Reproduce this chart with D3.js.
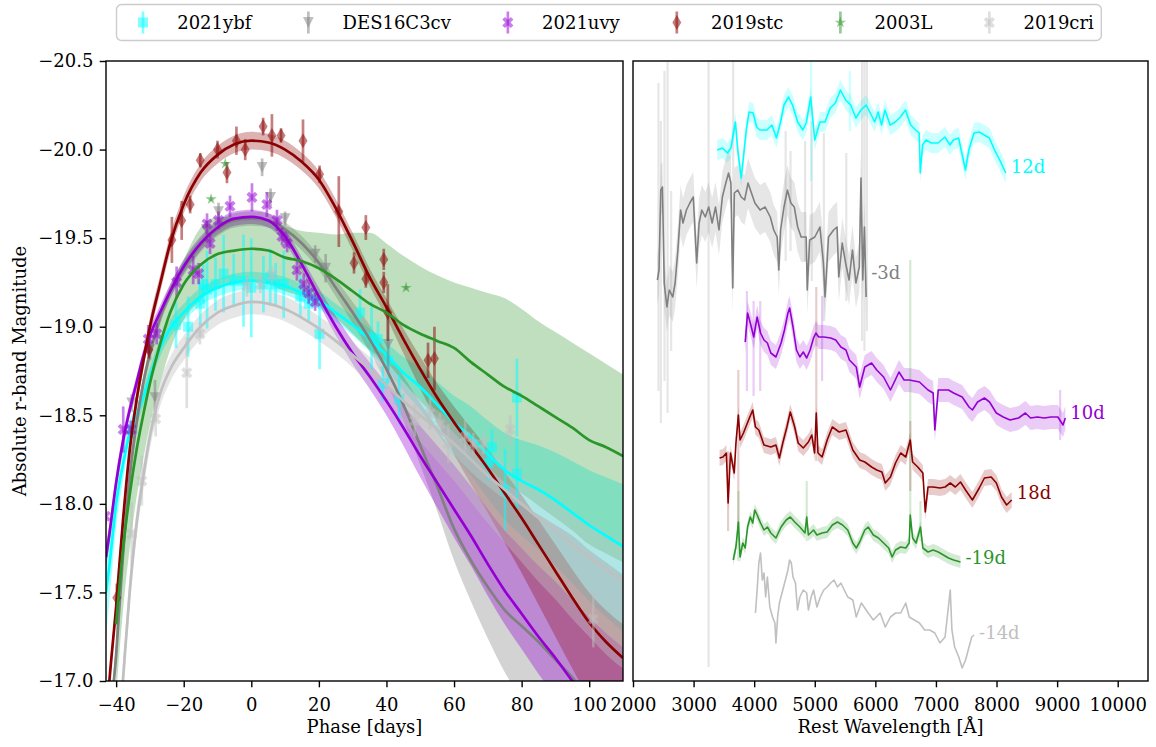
<!DOCTYPE html>
<html>
<head>
<meta charset="utf-8">
<script src="https://cdn.jsdelivr.net/npm/d3@7"></script>
<style>
body { margin: 0; background: #fff; }
svg text { font-family: "DejaVu Serif", "Liberation Serif", serif; }
</style>
</head>
<body>
<svg id="fig" width="1156" height="747"></svg>
<script>
"use strict";

// Light curve model grid (phase, days) shared by every model.
var lcPhase = [-43,-42,-40,-38,-36,-34,-32,-30,-27,-24,-20,-15,-10,-5,0,5,10,15,20,25,30,35,40,45,50,55,60,65,70,75,80,85,90,95,100,105,110];

// Model magnitudes and band widths (bright side, faint side).
var ybfMag = [-17.5,-17.65,-18.0,-18.22,-18.4,-18.5,-18.6,-18.72,-18.88,-18.99,-19.08,-19.17,-19.22,-19.25,-19.26,-19.25,-19.23,-19.19,-19.15,-19.08,-19.01,-18.93,-18.84,-18.74,-18.66,-18.56,-18.46,-18.38,-18.28,-18.19,-18.13,-18.08,-18.02,-17.95,-17.88,-17.82,-17.76];
var ybfHi  = [.25,.2,.13,.09,.07,.06,.05,.05,.05,.05,.05,.05,.05,.05,.05,.05,.05,.05,.05,.05,.05,.06,.07,.09,.11,.13,.15,.17,.19,.21,.23,.25,.27,.29,.31,.33,.35];
var ybfLo  = [.25,.2,.13,.09,.07,.06,.05,.05,.05,.05,.05,.05,.05,.05,.05,.05,.05,.05,.05,.05,.06,.07,.08,.1,.13,.16,.19,.22,.25,.28,.31,.34,.37,.4,.43,.46,.48];

var desMag = [-16.4,-16.7,-17.15,-17.7,-18.15,-18.45,-18.68,-18.85,-19.05,-19.2,-19.33,-19.46,-19.55,-19.6,-19.61,-19.6,-19.55,-19.47,-19.36,-19.22,-19.08,-18.93,-18.76,-18.56,-18.33,-18.1,-17.86,-17.68,-17.53,-17.4,-17.31,-17.22,-17.12,-17.02,-16.9,-16.8,-16.7];
var desHi  = [.08,.08,.07,.06,.05,.05,.04,.04,.04,.04,.04,.04,.04,.04,.04,.04,.04,.04,.04,.05,.06,.08,.1,.16,.24,.33,.42,.5,.57,.63,.68,.72,.76,.8,.84,.87,.9];
var desLo  = [.08,.08,.07,.06,.05,.05,.04,.04,.04,.04,.04,.04,.04,.04,.04,.04,.04,.04,.04,.05,.06,.07,.08,.09,.11,.14,.18,.23,.29,.35,.41,.47,.53,.59,.65,.7,.75];

var uvyMag = [-17.7,-17.83,-18.12,-18.35,-18.53,-18.68,-18.83,-18.95,-19.08,-19.2,-19.34,-19.47,-19.56,-19.61,-19.62,-19.6,-19.51,-19.35,-19.17,-19.0,-18.85,-18.72,-18.58,-18.43,-18.27,-18.12,-17.97,-17.82,-17.66,-17.51,-17.38,-17.25,-17.13,-17.0,-16.88,-16.77,-16.66];
var uvyHi  = [.06,.06,.05,.05,.04,.04,.04,.04,.04,.04,.04,.04,.04,.04,.04,.04,.04,.04,.05,.06,.07,.08,.1,.13,.17,.21,.25,.28,.31,.34,.37,.4,.43,.46,.48,.5,.53];
var uvyLo  = [.06,.06,.05,.05,.04,.04,.04,.04,.04,.04,.04,.04,.04,.04,.04,.04,.04,.04,.04,.05,.06,.07,.08,.1,.12,.14,.16,.17,.18,.19,.2,.21,.22,.23,.24,.25,.26];

var stcMag = [-16.75,-17.0,-17.42,-17.9,-18.3,-18.58,-18.8,-19.0,-19.24,-19.47,-19.69,-19.87,-19.97,-20.03,-20.05,-20.04,-20.0,-19.93,-19.83,-19.67,-19.48,-19.28,-19.11,-18.93,-18.76,-18.6,-18.46,-18.33,-18.2,-18.06,-17.92,-17.77,-17.62,-17.47,-17.33,-17.22,-17.13];
var stcHi  = [.05,.05,.05,.05,.05,.05,.05,.05,.05,.05,.05,.05,.05,.05,.05,.05,.05,.05,.05,.05,.05,.05,.05,.06,.07,.08,.09,.1,.11,.12,.13,.14,.15,.16,.17,.18,.19];
var stcLo  = [.05,.05,.05,.05,.05,.05,.05,.05,.05,.05,.05,.05,.05,.05,.05,.05,.05,.05,.05,.05,.05,.05,.06,.08,.11,.14,.18,.22,.25,.28,.31,.34,.37,.4,.43,.46,.49];

var lMag = [null,null,-17.32,-17.74,-18.05,-18.3,-18.5,-18.68,-18.9,-19.08,-19.24,-19.35,-19.41,-19.43,-19.44,-19.43,-19.39,-19.37,-19.33,-19.27,-19.2,-19.13,-19.08,-19.01,-18.96,-18.92,-18.88,-18.8,-18.73,-18.66,-18.61,-18.55,-18.49,-18.43,-18.36,-18.32,-18.27];
var lHi  = [null,null,.2,.2,.2,.2,.19,.17,.15,.14,.14,.21,.21,.19,.18,.17,.18,.17,.2,.25,.33,.4,.39,.39,.38,.37,.37,.42,.46,.5,.49,.48,.48,.48,.49,.47,.46];
var lLo  = [null,null,.4,.35,.3,.27,.25,.23,.22,.21,.2,.2,.19,.19,.19,.19,.19,.2,.21,.22,.24,.26,.28,.32,.38,.43,.48,.5,.52,.54,.55,.56,.57,.58,.59,.6,.6];

var criMag = [null,null,-16.5,-17.0,-17.5,-17.88,-18.15,-18.38,-18.62,-18.76,-18.88,-19.0,-19.08,-19.12,-19.14,-19.13,-19.1,-19.05,-18.99,-18.92,-18.84,-18.76,-18.67,-18.58,-18.5,-18.42,-18.34,-18.25,-18.16,-18.08,-18.0,-17.92,-17.85,-17.77,-17.7,-17.63,-17.57];
var criHi  = [null,null,.1,.1,.09,.08,.07,.07,.07,.07,.07,.07,.07,.07,.07,.07,.07,.07,.07,.07,.07,.07,.08,.09,.1,.11,.12,.13,.14,.15,.16,.17,.18,.19,.2,.21,.22];
var criLo  = [null,null,.1,.1,.09,.08,.07,.07,.07,.07,.07,.07,.07,.07,.07,.07,.07,.07,.07,.07,.07,.08,.1,.12,.15,.18,.21,.24,.27,.3,.33,.36,.39,.42,.45,.48,.5];

// Photometry: [phase, magnitude, error].
var ybfPts = [[-35.2,-18.42,.05],[-22.3,-19.01,.13],[-18.7,-19.0,.17],[-15.1,-19.13,.12],[-14.2,-19.24,.11],[-13.1,-19.21,.22],[-10.6,-19.24,.15],[-8.2,-19.3,.22],[-5.2,-19.26,.15],[-2.3,-19.26,.26],[0,-19.22,.28],[3.6,-19.24,.16],[5.6,-19.28,.16],[7.2,-19.24,.12],[9.6,-19.24,.19],[14.5,-19.17,.12],[17,-19.13,.1],[20.2,-18.96,.2],[32.2,-19.08,.13],[35.6,-18.94,.2],[37.5,-18.93,.1],[38.9,-18.68,.1],[40.5,-18.81,.13],[43.8,-18.59,.14],[70.1,-18.23,.1],[71.2,-18.32,.1],[75.1,-18.08,.23],[78.6,-18.6,.22],[78.6,-18.17,.2]];
var desPts = [[-35.4,-18.57,.05],[-30,-18.87,.06],[-28.5,-18.6,.1],[-13.3,-19.55,.05],[-9.7,-19.65,.05],[3.2,-19.9,.05],[5.7,-19.73,.05],[10,-19.61,.04],[18.9,-19.41,.05],[22,-19.33,.08],[40.5,-18.9,.15]];
var uvyPts = [[-43.2,-17.93,.05],[-37.9,-18.42,.13],[-35.6,-18.42,.05],[-30.5,-18.93,.08],[-28,-18.96,.06],[-22.1,-19.25,.09],[-17.2,-19.32,.08],[-15.6,-19.3,.06],[-13.1,-19.58,.06],[-12.2,-19.47,.06],[-9.7,-19.6,.05],[-6.3,-19.68,.06],[0.2,-19.73,.08],[4.6,-19.69,.07],[7.6,-19.6,.06],[9.1,-19.51,.05],[10.6,-19.47,.05],[13.5,-19.32,.06],[15.5,-19.24,.06],[17,-19.19,.06],[18.9,-19.14,.05]];
var stcPts = [[-39.8,-17.47,.08],[-30.3,-18.87,.05],[-23.5,-19.49,.13],[-20.6,-19.6,.11],[-18.1,-19.69,.05],[-15.1,-19.94,.04],[-10,-20.0,.05],[-7.2,-19.87,.06],[-4.4,-20.05,.08],[-1.8,-20.0,.06],[3.5,-20.13,.05],[6.1,-20.08,.12],[8.8,-20.08,.04],[15.3,-20.05,.12],[20.2,-19.86,.05],[25.9,-19.65,.2],[30.4,-19.36,.06],[33.9,-19.56,.07],[33.9,-19.27,.05],[39.2,-19.38,.06],[39.2,-19.25,.06],[40.4,-19.08,.16],[52.3,-18.81,.1],[54.2,-18.82,.18]];
var lPts = [[-11.9,-19.72,.01],[-7.7,-19.92,.01],[45.8,-19.22,.01]];
var criPts = [[-35.4,-17.83,.18],[-32.4,-18.13,.14],[-28.3,-18.48,.1],[-19.1,-18.74,.2],[-15.2,-18.96,.06],[-1.3,-19.23,.06],[2.7,-19.24,.05],[6.1,-19.29,.05],[48.4,-18.47,.09],[52.9,-18.51,.09],[55.8,-18.45,.06],[58.3,-18.34,.11],[63.3,-18.38,.1],[65.7,-18.34,.06],[68.7,-18.34,.06],[76.6,-18.42,.08],[101.2,-17.35,.16]];

// Spectra: [rest wavelength, scaled flux + offset].
var ybfSpec = [[3390,5.31],[3475,5.33],[3560,5.28],[3616,5.33],[3690,5.59],[3729,5.31],[3786,5.03],[3870,5.51],[3916,5.69],[3984,5.68],[4040,5.54],[4097,5.51],[4210,5.51],[4294,5.56],[4368,5.43],[4436,5.59],[4492,5.76],[4565,5.84],[4633,5.76],[4718,5.59],[4803,5.51],[4859,5.58],[4933,5.84],[5000,5.41],[5085,5.59],[5170,5.59],[5255,5.73],[5340,5.78],[5424,5.91],[5509,5.81],[5594,5.76],[5679,5.63],[5763,5.71],[5848,5.76],[5933,5.66],[5989,5.59],[6046,5.69],[6102,5.56],[6159,5.71],[6244,5.56],[6328,5.59],[6413,5.64],[6498,5.71],[6583,5.56],[6667,5.51],[6724,5.48],[6741,5.08],[6780,5.36],[6837,5.41],[6922,5.38],[7035,5.38],[7148,5.44],[7232,5.36],[7289,5.41],[7374,5.43],[7487,5.11],[7543,5.31],[7628,5.48],[7713,5.49],[7797,5.46],[7882,5.43],[7967,5.31],[8052,5.21],[8153,5.08]];
var desSpec = [[2402,4.01],[2430,4.11],[2458,4.91],[2486,4.94],[2515,3.98],[2560,3.74],[2599,3.91],[2656,3.84],[2695,3.98],[2741,4.31],[2786,4.71],[2825,4.58],[2882,4.71],[2938,4.78],[2995,4.84],[3051,4.18],[3091,4.58],[3136,4.71],[3193,4.64],[3249,4.74],[3306,4.58],[3362,4.74],[3419,4.51],[3475,4.84],[3532,4.98],[3577,5.08],[3616,4.98],[3645,3.93],[3673,4.88],[3729,4.91],[3786,4.84],[3842,4.81],[3899,4.98],[3955,4.88],[4012,4.78],[4097,4.71],[4181,4.74],[4266,4.64],[4323,4.51],[4379,4.44],[4407,4.11],[4436,4.51],[4492,4.74],[4549,4.91],[4605,4.78],[4662,4.74],[4718,4.54],[4775,4.44],[4859,4.44],[4876,3.91],[4916,4.41],[5001,4.44],[5085,4.54],[5142,4.18],[5170,3.84],[5227,4.44],[5311,4.51],[5368,4.54],[5396,4.04],[5453,4.38],[5509,4.18],[5566,4.01],[5622,4.31],[5679,3.98],[5735,4.14],[5763,5.03],[5792,4.01],[5820,4.54],[5848,3.84]];
var uvySpec = [[3852,3.39],[3891,3.68],[3936,3.58],[3993,3.44],[4049,3.64],[4105,3.48],[4162,3.41],[4218,3.38],[4275,3.28],[4359,3.24],[4444,3.38],[4500,3.51],[4557,3.68],[4585,3.73],[4641,3.54],[4698,3.31],[4754,3.24],[4810,3.29],[4867,3.23],[4923,3.31],[4980,3.43],[5019,3.48],[5064,3.44],[5149,3.44],[5262,3.43],[5346,3.41],[5431,3.34],[5515,3.31],[5572,3.21],[5685,3.14],[5741,2.94],[5826,3.14],[5938,3.18],[6023,3.11],[6136,3.04],[6249,2.91],[6305,2.98],[6390,3.09],[6474,3.01],[6559,3.01],[6728,2.99],[6869,2.91],[6954,2.88],[6982,2.51],[7038,2.91],[7207,2.91],[7292,2.88],[7433,2.84],[7546,2.74],[7602,2.71],[7687,2.79],[7800,2.83],[7884,2.79],[7997,2.68],[8110,2.64],[8223,2.61],[8364,2.63],[8476,2.68],[8561,2.63],[8674,2.64],[8787,2.63],[8899,2.64],[9012,2.64],[9097,2.56],[9136,2.63]];
var stcSpec = [[3429,2.23],[3485,2.24],[3541,2.28],[3570,1.78],[3609,2.28],[3671,2.08],[3699,2.38],[3739,2.66],[3767,2.41],[3823,2.48],[3908,2.61],[3976,2.71],[4021,2.54],[4077,2.51],[4162,2.36],[4275,2.34],[4359,2.36],[4416,2.23],[4472,2.38],[4540,2.54],[4596,2.69],[4669,2.54],[4726,2.38],[4810,2.33],[4895,2.39],[4951,2.46],[4997,2.28],[5025,2.68],[5053,2.28],[5121,2.24],[5205,2.41],[5290,2.54],[5403,2.49],[5515,2.51],[5628,2.31],[5741,2.21],[5826,2.19],[5938,2.14],[6023,2.11],[6108,2.09],[6164,1.98],[6249,2.04],[6333,2.18],[6418,2.28],[6502,2.24],[6576,2.41],[6615,2.19],[6700,2.14],[6784,2.08],[6824,1.69],[6869,1.94],[6954,1.94],[7066,1.93],[7151,1.94],[7236,1.98],[7320,1.94],[7405,1.99],[7489,1.91],[7602,1.81],[7715,1.93],[7800,2.03],[7912,2.04],[7997,1.98],[8082,1.84],[8166,1.76],[8251,1.81]];
var lSpec = [[3654,1.21],[3699,1.34],[3739,1.59],[3767,1.24],[3812,1.38],[3852,1.33],[3891,1.54],[3936,1.64],[3976,1.58],[4010,1.71],[4049,1.66],[4105,1.58],[4162,1.51],[4218,1.54],[4275,1.48],[4359,1.43],[4444,1.54],[4528,1.61],[4596,1.64],[4669,1.59],[4754,1.54],[4839,1.48],[4867,1.64],[4895,1.46],[4980,1.51],[5036,1.46],[5121,1.48],[5205,1.49],[5290,1.56],[5374,1.59],[5459,1.56],[5544,1.51],[5628,1.38],[5685,1.33],[5741,1.39],[5826,1.51],[5882,1.54],[5967,1.46],[6051,1.43],[6136,1.38],[6220,1.33],[6277,1.24],[6333,1.31],[6418,1.34],[6502,1.33],[6559,1.38],[6576,1.66],[6615,1.43],[6672,1.38],[6745,1.54],[6784,1.33],[6869,1.29],[6954,1.31],[7038,1.29],[7123,1.26],[7207,1.23],[7292,1.21],[7405,1.19]];
var criSpec = [[4021,0.68],[4049,0.91],[4077,1.18],[4105,1.28],[4134,1.01],[4162,1.08],[4190,0.84],[4218,1.04],[4258,0.74],[4303,0.64],[4342,0.58],[4359,0.38],[4387,0.64],[4416,0.78],[4472,0.91],[4528,1.04],[4557,1.11],[4585,1.21],[4613,1.18],[4641,1.04],[4681,0.98],[4715,0.71],[4754,0.84],[4810,0.91],[4867,0.88],[4895,0.71],[4940,0.84],[4980,0.91],[5036,0.74],[5092,0.84],[5149,0.91],[5205,0.94],[5262,0.98],[5318,1.01],[5374,0.94],[5431,0.98],[5487,0.91],[5544,0.84],[5628,0.81],[5685,0.64],[5769,0.78],[5826,0.73],[5882,0.68],[5967,0.61],[6079,0.68],[6164,0.54],[6249,0.64],[6333,0.68],[6418,0.68],[6502,0.78],[6559,0.64],[6643,0.61],[6728,0.58],[6813,0.51],[6897,0.51],[6982,0.48],[7066,0.38],[7151,0.44],[7236,0.91],[7264,0.51],[7309,0.34],[7377,0.24],[7433,0.13],[7489,0.21],[7546,0.34],[7591,0.44],[7630,0.46]];

// Noisy pixels of the flux uncertainty: [wavelength, top, bottom].
var ybfSpikes = [[4940,6.3,5.0],[5580,6.1,5.5]];
var desSpikes = [[2420,5.98,2.9],[2460,5.6,2.58],[2520,6.1,3.0],[2571,6.3,2.68],[2630,4.9,3.3],[3248,6.3,0.14],[3654,6.3,3.93],[4520,5.5,4.2],[4600,5.3,4.3],[4840,5.4,4.2],[4950,5.6,4.0],[5150,5.48,3.6],[5520,5.28,3.8],[5780,6.3,3.4],[5820,6.3,3.3],[5860,6.3,3.5]];
var uvySpikes = [[3880,3.9,2.9],[3990,3.8,2.85],[4100,3.8,2.9],[5121,3.85,3.0],[9050,2.91,2.41]];
var stcSpikes = [[3570,2.3,1.5],[3739,3.11,1.51],[5025,3.94,2.2],[6576,2.6,1.9]];
var lSpikes = [[3739,1.9,1.2],[4867,2.0,1.4],[6576,4.21,1.5],[6745,1.8,1.4]];
var criSpikes = [];

var names = ["2021ybf","DES16C3cv","2021uvy","2019stc","2003L","2019cri"];
var colors = ["#00ffff","#808080","#9400d3","#8b0000","#2a962a","#c0c0c0"];
var markers = ["s","v","X","d","*","X"];
var specErr = [0.1, 0.25, 0.12, 0.08, 0.06, 0];
var specLabels = ["12d","-3d","10d","18d","-19d","-14d"];
var specLabelFlux = [5.14, 4.08, 2.68, 1.88, 1.23, 0.48];
var bandAlpha = [0.35, 0.35, 0.35, 0.3, 0.3, 0.4];

var phaseTicks = [-40,-20,0,20,40,60,80,100];
var magTicks = [-20.5,-20.0,-19.5,-19.0,-18.5,-18.0,-17.5,-17.0];
var waveTicks = [2000,3000,4000,5000,6000,7000,8000,9000,10000];

var sne = names.map(function(n, i){
    return {
        name: n, color: colors[i], marker: markers[i],
        mag: [ybfMag, desMag, uvyMag, stcMag, lMag, criMag][i],
        hi: [ybfHi, desHi, uvyHi, stcHi, lHi, criHi][i],
        lo: [ybfLo, desLo, uvyLo, stcLo, lLo, criLo][i],
        pts: [ybfPts, desPts, uvyPts, stcPts, lPts, criPts][i],
        spec: [ybfSpec, desSpec, uvySpec, stcSpec, lSpec, criSpec][i],
        spikes: [ybfSpikes, desSpikes, uvySpikes, stcSpikes, lSpikes, criSpikes][i],
        err: specErr[i], label: specLabels[i], labelFlux: specLabelFlux[i], alpha: bandAlpha[i]
    };
});

// SVG and scales.

var svg = d3.select("#fig");
var FS = 18;
var FONT = "'DejaVu Serif', 'Liberation Serif', serif";

var xL = d3.scaleLinear().domain([-43, 110]).range([106, 623]);
var yL = d3.scaleLinear().domain([-20.5, -17]).range([61, 681]);
var xR = d3.scaleLinear().domain([2000, 10500]).range([633, 1148]);
var yR = d3.scaleLinear().domain([0, 6.2]).range([681, 61]);

var defs = svg.append("defs");
defs.append("clipPath").attr("id", "clipL").append("rect")
    .attr("x", 106).attr("y", 61).attr("width", 517).attr("height", 620);
defs.append("clipPath").attr("id", "clipR").append("rect")
    .attr("x", 633).attr("y", 61).attr("width", 515).attr("height", 620);

// Marker shapes, centred on 0,0.

var xPath = function(r, t){
    var p = [[t,r],[t,t],[r,t],[r,-t],[t,-t],[t,-r],[-t,-r],[-t,-t],[-r,-t],[-r,t],[-t,t],[-t,r]];
    var c = Math.SQRT1_2;
    return "M" + p.map(function(q){ return ((q[0]-q[1])*c).toFixed(2) + "," + ((q[0]+q[1])*c).toFixed(2); }).join("L") + "Z";
};
var markerPath = function(kind){
    if (kind === "s") return "M-5,-5H5V5H-5Z";
    if (kind === "v") return "M-5.4,-5.4L5.4,-5.4L0,5.4Z";
    if (kind === "X") return xPath(6, 1.9);
    if (kind === "d") return "M0,-7.5L4.5,0L0,7.5L-4.5,0Z";
    return d3.symbol(d3.symbolStar, 40)();
};

// Left panel: bands, then points and model lines.

var gL = svg.append("g").attr("clip-path", "url(#clipL)");

sne.forEach(function(sn){
    var rows = lcPhase.map(function(p, i){ return {p: p, m: sn.mag[i], hi: sn.hi[i], lo: sn.lo[i]}; });
    var area = d3.area()
        .defined(function(d){ return d.m !== null; })
        .x(function(d){ return xL(d.p); })
        .y0(function(d){ return yL(d.m + d.lo); })
        .y1(function(d){ return yL(d.m - d.hi); })
        .curve(d3.curveMonotoneX);
    gL.append("path").attr("d", area(rows))
        .attr("fill", sn.color).attr("fill-opacity", sn.alpha).attr("stroke", "none");
});

sne.forEach(function(sn){
    var g = gL.append("g");
    g.selectAll("line").data(sn.pts).enter().append("line")
        .attr("x1", function(d){ return xL(d[0]); })
        .attr("x2", function(d){ return xL(d[0]); })
        .attr("y1", function(d){ return yL(d[1] - d[2]); })
        .attr("y2", function(d){ return yL(d[1] + d[2]); })
        .attr("stroke", sn.color).attr("stroke-width", 2.7).attr("stroke-opacity", 0.5);
    g.selectAll("path").data(sn.pts).enter().append("path")
        .attr("d", markerPath(sn.marker))
        .attr("transform", function(d){ return "translate(" + xL(d[0]) + "," + yL(d[1]) + ")"; })
        .attr("fill", sn.color).attr("fill-opacity", 0.5);

    var rows = lcPhase.map(function(p, i){ return {p: p, m: sn.mag[i]}; });
    var line = d3.line()
        .defined(function(d){ return d.m !== null; })
        .x(function(d){ return xL(d.p); })
        .y(function(d){ return yL(d.m); })
        .curve(d3.curveMonotoneX);
    gL.append("path").attr("d", line(rows))
        .attr("fill", "none").attr("stroke", sn.color).attr("stroke-width", 2.7);
});

// Right panel: spectra.

var gR = svg.append("g").attr("clip-path", "url(#clipR)");

sne.forEach(function(sn){
    if (sn.err > 0){
        var band = d3.area()
            .x(function(d){ return xR(d[0]); })
            .y0(function(d){ return yR(d[1] - sn.err); })
            .y1(function(d){ return yR(d[1] + sn.err); });
        gR.append("path").attr("d", band(sn.spec))
            .attr("fill", sn.color).attr("fill-opacity", 0.2);
    }
    gR.selectAll(null).data(sn.spikes).enter().append("line")
        .attr("x1", function(d){ return xR(d[0]); })
        .attr("x2", function(d){ return xR(d[0]); })
        .attr("y1", function(d){ return yR(d[1]); })
        .attr("y2", function(d){ return yR(d[2]); })
        .attr("stroke", sn.color).attr("stroke-opacity", 0.2).attr("stroke-width", 2.2);
});

sne.forEach(function(sn){
    var line = d3.line()
        .x(function(d){ return xR(d[0]); })
        .y(function(d){ return yR(d[1]); });
    gR.append("path").attr("d", line(sn.spec))
        .attr("fill", "none").attr("stroke", sn.color).attr("stroke-width", 1.6)
        .attr("stroke-linejoin", "round");
    var last = sn.spec[sn.spec.length - 1];
    svg.append("text")
        .attr("x", xR(last[0]) + 5).attr("y", yR(sn.labelFlux)).attr("dy", "0.35em")
        .attr("font-family", FONT).attr("font-size", FS).attr("fill", sn.color).text(sn.label);
});

// Axes.

var styleAxis = function(g){
    g.select(".domain").remove();
    g.attr("font-family", FONT).attr("font-size", FS);
    g.selectAll(".tick line").attr("stroke", "#000").attr("stroke-width", 1.4);
    g.selectAll(".tick text").attr("fill", "#000").attr("font-family", FONT);
};

svg.append("g").attr("transform", "translate(0,681)")
    .call(d3.axisBottom(xL).tickValues(phaseTicks).tickSize(6.3).tickPadding(6.3).tickFormat(d3.format("d")))
    .call(styleAxis)
    .selectAll(".tick text").attr("dy", "0.96em");

svg.append("g").attr("transform", "translate(106,0)")
    .call(d3.axisLeft(yL).tickValues(magTicks).tickSize(6.3).tickPadding(6.3).tickFormat(d3.format(".1f")))
    .call(styleAxis);

svg.append("g").attr("transform", "translate(0,681)")
    .call(d3.axisBottom(xR).tickValues(waveTicks).tickSize(6.3).tickPadding(6.3).tickFormat(d3.format("d")))
    .call(styleAxis)
    .selectAll(".tick text").attr("dy", "0.96em");

svg.append("rect").attr("x", 106).attr("y", 61).attr("width", 517).attr("height", 620)
    .attr("fill", "none").attr("stroke", "#000").attr("stroke-width", 1.4);
svg.append("rect").attr("x", 633).attr("y", 61).attr("width", 515).attr("height", 620)
    .attr("fill", "none").attr("stroke", "#000").attr("stroke-width", 1.4);

svg.append("text").attr("x", 364.5).attr("y", 733).attr("text-anchor", "middle")
    .attr("font-family", FONT).attr("font-size", FS).text("Phase [days]");
svg.append("text").attr("x", 890.5).attr("y", 733).attr("text-anchor", "middle")
    .attr("font-family", FONT).attr("font-size", FS).text("Rest Wavelength [Å]");
svg.append("text").attr("transform", "translate(26,371) rotate(-90)").attr("text-anchor", "middle")
    .attr("font-family", FONT).attr("font-size", FS).text("Absolute r-band Magnitude");

// Legend, laid out like matplotlib's (handle, pad, text, column spacing).

var em = 19;
var legY = 22.5;
var legend = svg.append("g");
var box = legend.append("rect");
var cursor = 124;
sne.forEach(function(sn){
    var cx = cursor + em;
    legend.append("line")
        .attr("x1", cx).attr("x2", cx).attr("y1", legY - 11).attr("y2", legY + 11)
        .attr("stroke", sn.color).attr("stroke-width", 2.7).attr("stroke-opacity", 0.5);
    legend.append("path").attr("d", markerPath(sn.marker))
        .attr("transform", "translate(" + cx + "," + legY + ")")
        .attr("fill", sn.color).attr("fill-opacity", 0.5);
    var t = legend.append("text")
        .attr("x", cursor + 2.8 * em).attr("y", legY).attr("dy", "0.35em")
        .attr("font-family", FONT).attr("font-size", FS).text(sn.name);
    cursor = cursor + 2.8 * em + t.node().getComputedTextLength() + 2 * em;
});
box.attr("x", 116.5).attr("y", 4.5).attr("width", cursor - 2 * em + 7.5 - 116.5).attr("height", 36)
    .attr("rx", 5).attr("fill", "#fff").attr("fill-opacity", 0.8)
    .attr("stroke", "#cccccc").attr("stroke-width", 1.4);
</script>
</body>
</html>
